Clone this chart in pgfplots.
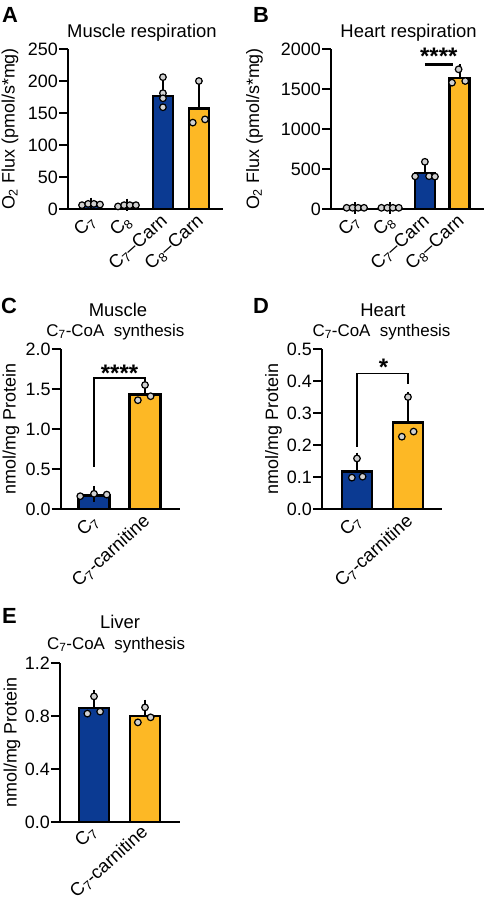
\documentclass[border=0pt]{standalone}
\usepackage{fontspec}
\setmainfont{Liberation Sans}
\usepackage{pgfplots}
\pgfplotsset{compat=1.18}

\definecolor{cblue}{HTML}{0B3A92}
\definecolor{cyellow}{HTML}{FDB825}
\definecolor{cdot}{HTML}{D0D0D0}

\newcommand\tk{\fontsize{18}{18}\selectfont}
\newcommand\xtk{\fontsize{18.5}{18.5}\selectfont}
\newcommand\ttl{\fontsize{18.5}{18.5}\selectfont}
\newcommand\sbt{\fontsize{17}{17}\selectfont}
\newcommand\plet{\fontsize{22}{22}\selectfont\bfseries}
\newcommand\stars{\fontsize{24}{24}\selectfont\bfseries}
\newcommand\Cs[1]{C\textsubscript{#1}}

\pgfplotsset{
  panel/.style={
    scale only axis, anchor=south west, clip=false,
    axis x line=bottom, axis y line=left,
    axis line style={-, line width=2.2bp, black},
    ymin=0,
    tick align=outside,
    major tick length=9bp,
    xtick style={draw=none},
    ytick style={line width=1.8bp, black},
    tick label style={font=\tk},
    yticklabel style={inner sep=1bp},
    xticklabel style={font=\xtk, rotate=42, anchor=north east, inner sep=0pt,
      xshift=1bp, yshift=6bp},
    ylabel style={font=\tk, anchor=center},
    /pgf/number format/assume math mode=true,
  },
  bars/.style 2 args={
    ybar, bar shift=0pt, bar width=#1, draw=black, line width=2.4bp,
    error bars/y dir=plus, error bars/y explicit,
    error bars/error bar style={line width=2bp, black},
    error bars/error mark options={line width=2bp, black, mark size=#2},
  },
  dots/.style={only marks, mark=*, mark size=3.3bp,
    mark options={fill=cdot, draw=black, line width=1.2bp}},
  onedec/.style={yticklabel style={/pgf/number format/.cd, fixed, fixed zerofill, precision=1}},
}

\begin{document}
\begin{tikzpicture}
\useasboundingbox (0,0) rectangle (484bp,-900bp);

% panel letters
\node[anchor=base west, font=\plet, inner sep=0pt] at (2bp,-22bp) {A};
\node[anchor=base west, font=\plet, inner sep=0pt] at (253bp,-22bp) {B};
\node[anchor=base west, font=\plet, inner sep=0pt] at (1bp,-313bp) {C};
\node[anchor=base west, font=\plet, inner sep=0pt] at (253bp,-313bp) {D};
\node[anchor=base west, font=\plet, inner sep=0pt] at (2bp,-623bp) {E};

% A: muscle respiration
\begin{axis}[panel, at={(68bp,-209bp)}, width=155bp, height=160bp,
  xmin=-0.64, xmax=3.67, ymax=250, ytick={0,50,...,250},
  xtick={0,1,2,3}, xticklabels={\Cs7, \Cs8, \Cs7--Carn, \Cs8--Carn},
  ylabel={O\textsubscript{2} Flux (pmol/s*mg)},
  ylabel style={at={(axis description cs:-0.374,0.5)}}]
\addplot[fill=cblue, bars={20bp}{6bp}] coordinates {(0,7) +- (0,1.5) (2,177) +- (0,18)};
\addplot[fill=cyellow, bars={20bp}{6bp}] coordinates {(1,6) +- (0,1) (3,157) +- (0,39)};
\addplot[dots] coordinates {(-0.25,6) (-0.08,8) (0.08,8) (0.25,7)
  (0.75,4) (0.92,6) (1.08,6) (1.25,6)
  (2,206) (2,181) (2,173) (2,159)
  (2.83,135) (3.17,140) (3,200)};
\node[anchor=base, font=\ttl] at (axis description cs:0.477,1.069) {Muscle respiration};
\end{axis}

% B: heart respiration
\begin{axis}[panel, at={(331bp,-209bp)}, width=153bp, height=160bp,
  xmin=-0.7, xmax=3.7, ymax=2000, ytick={0,500,...,2000},
  yticklabel style={/pgf/number format/1000 sep={}},
  xtick={0,1,2,3}, xticklabels={\Cs7, \Cs8, \Cs7--Carn, \Cs8--Carn},
  ylabel={O\textsubscript{2} Flux (pmol/s*mg)},
  ylabel style={at={(axis description cs:-0.5,0.5)}}]
\addplot[fill=cblue, bars={20bp}{6bp}] coordinates {(0,8) +- (0,2) (2,450) +- (0,92)};
\addplot[fill=cyellow, bars={20bp}{6bp}] coordinates {(1,8) +- (0,2) (3,1640) +- (0,92)};
\addplot[dots] coordinates {(-0.25,15) (-0.08,15) (0.08,15) (0.25,15)
  (0.75,15) (0.92,15) (1.08,15) (1.25,15)
  (1.72,408) (2,590) (2.12,410) (2.29,405)
  (2.78,1579) (2.97,1746) (3.16,1600)};
\draw[line width=2.6bp] (axis cs:2,1808) -- (axis cs:2.8,1808);
\node[anchor=base, font=\stars, inner sep=0pt] at (axis cs:2.4,1808) {****};
\node[anchor=base, font=\ttl] at (axis description cs:0.507,1.075) {Heart respiration};
\end{axis}

% C: muscle C7-CoA synthesis
\begin{axis}[panel, onedec, at={(60.7bp,-509bp)}, width=119.3bp, height=160bp,
  xmin=-0.653, xmax=1.686, ymax=2, ytick={0,0.5,...,2},
  xtick={0,1}, xticklabels={\Cs7, \Cs7-carnitine},
  ylabel={nmol/mg Protein},
  ylabel style={at={(axis description cs:-0.417,0.5)}}]
\addplot[fill=cblue, bars={31bp}{8bp}] coordinates {(0,0.17) +- (0,0.02)};
\addplot[fill=cyellow, bars={31bp}{8bp}] coordinates {(1,1.43) +- (0,0.11)};
\addplot[dots] coordinates {(-0.27,0.16) (0,0.19) (0.25,0.18)
  (0.86,1.36) (1,1.55) (1.11,1.41)};
\draw[line width=1.5bp] (axis cs:0,0.53) -- (axis cs:0,1.6375) -- (axis cs:1,1.6375) -- (axis cs:1,1.51);
\node[anchor=base, font=\stars, inner sep=0pt, yshift=-3bp] at (axis cs:0.5,1.6375) {****};
\node[anchor=base, font=\ttl] at (axis description cs:0.48,1.202) {Muscle};
\node[anchor=base, font=\sbt] at (axis description cs:0.459,1.081) {\Cs7-CoA~ synthesis};
\end{axis}

% D: heart C7-CoA synthesis
\begin{axis}[panel, onedec, at={(322bp,-509bp)}, width=120bp, height=160bp,
  xmin=-0.686, xmax=1.667, ymax=0.5, ytick={0,0.1,...,0.5},
  xtick={0,1}, xticklabels={\Cs7, \Cs7-carnitine},
  ylabel={nmol/mg Protein},
  ylabel style={at={(axis description cs:-0.404,0.5)}}]
\addplot[fill=cblue, bars={30bp}{8bp}] coordinates {(0,0.117) +- (0,0.034)};
\addplot[fill=cyellow, bars={30bp}{8bp}] coordinates {(1,0.27) +- (0,0.071)};
\addplot[dots] coordinates {(-0.1,0.098) (0.11,0.101) (0,0.158)
  (0.88,0.226) (1.11,0.242) (1,0.35)};
\draw[line width=1.5bp] (axis cs:0,0.195) -- (axis cs:0,0.424) -- (axis cs:1,0.424) -- (axis cs:1,0.39);
\node[anchor=base, font=\stars, inner sep=0pt, yshift=-2bp] at (axis cs:0.52,0.424) {*};
\node[anchor=base, font=\ttl] at (axis description cs:0.508,1.202) {Heart};
\node[anchor=base, font=\sbt] at (axis description cs:0.496,1.081) {\Cs7-CoA~ synthesis};
\end{axis}

% E: liver C7-CoA synthesis
\begin{axis}[panel, onedec, at={(60bp,-822bp)}, width=120bp, height=159bp,
  xmin=-0.667, xmax=1.686, ymax=1.2, ytick={0,0.4,0.8,1.2},
  xtick={0,1}, xticklabels={\Cs7, \Cs7-carnitine},
  xticklabel style={yshift=3bp},
  ylabel={nmol/mg Protein},
  ylabel style={at={(axis description cs:-0.4,0.5)}}]
\addplot[fill=cblue, bars={30bp}{8bp}] coordinates {(0,0.86) +- (0,0.076)};
\addplot[fill=cyellow, bars={30bp}{8bp}] coordinates {(1,0.80) +- (0,0.063)};
\addplot[dots] coordinates {(-0.13,0.818) (0,0.948) (0.12,0.833)
  (0.86,0.752) (1,0.865) (1.11,0.79)};
\node[anchor=base, font=\ttl] at (axis description cs:0.5,1.218) {Liver};
\node[anchor=base, font=\sbt] at (axis description cs:0.467,1.086) {\Cs7-CoA~ synthesis};
\end{axis}

\end{tikzpicture}
\end{document}
